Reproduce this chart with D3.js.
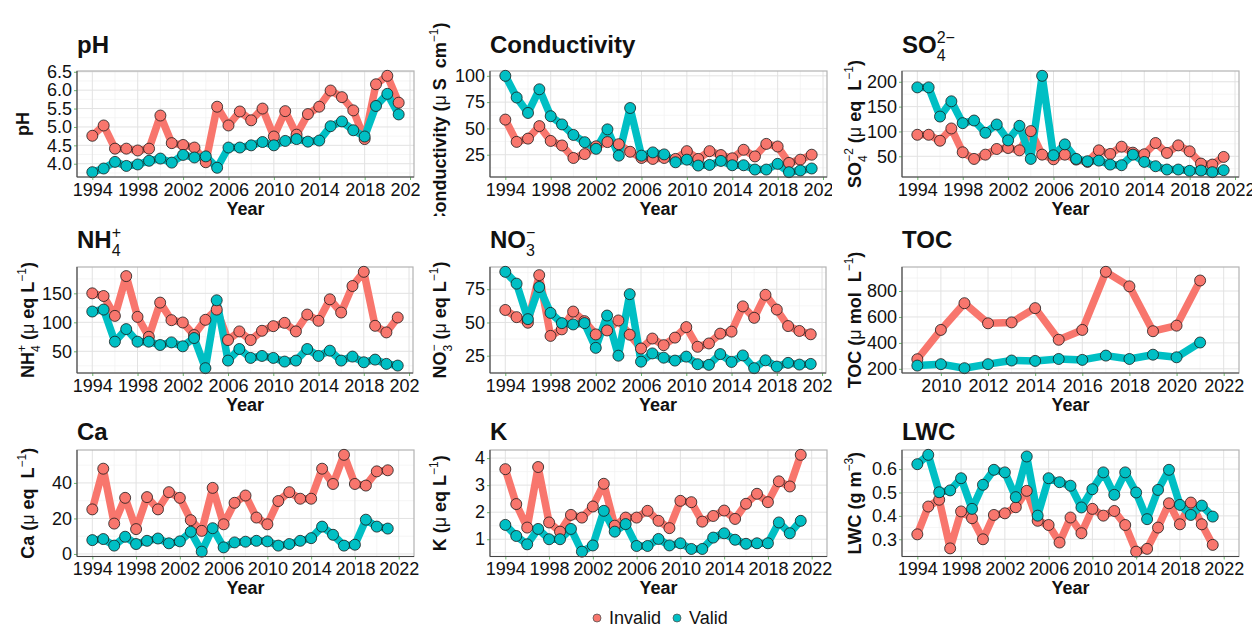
<!DOCTYPE html>
<html lang="en">
<head>
<meta charset="UTF-8">
<title>Invalid vs valid samples</title>
<script src="https://cdn.jsdelivr.net/npm/d3@7"></script>
<style>
body{margin:0; background:#fff;}
svg text{font-family:"Liberation Sans", Arial, sans-serif; fill:#111;}
</style>
</head>
<body>
<div id="chart"></div>
<script>
// data
var years = [1994,1995,1996,1997,1998,1999,2000,2001,2002,2003,2004,2005,2006,2007,
             2008,2009,2010,2011,2012,2013,2014,2015,2016,2017,2018,2019,2020,2021];
var tocYears = [2009,2010,2011,2012,2013,2014,2015,2016,2017,2018,2019,2020,2021];

var phInvalid = [4.76,5.04,4.41,4.41,4.36,4.41,5.31,4.56,4.51,4.44,4.04,5.55,5.04,5.42,5.18,5.50,4.74,5.43,4.79,5.35,5.55,5.99,5.81,5.45,4.67,6.16,6.39,5.66];
var phValid   = [3.77,3.87,4.05,3.94,3.98,4.08,4.14,4.03,4.24,4.17,4.20,3.89,4.44,4.44,4.50,4.59,4.50,4.62,4.67,4.60,4.63,5.02,5.15,4.91,4.74,5.57,5.90,5.34];

var condInvalid = [58.4,37.2,40.3,52.2,38.1,33.8,21.9,25.6,33,37,35,27.8,21.9,21,21.9,21,28.4,21,28.4,24.7,21.6,29.7,23.4,35.3,32.8,17.2,20.3,25];
var condValid   = [100,79.4,64.7,87.2,61.6,53.8,43.8,36.9,30.6,49.1,24.1,69.4,24.1,27.2,25.3,17.8,20.3,14.7,15.3,19.1,15,15,10.9,10.9,16.3,8.4,10,11.9];

var so4Invalid = [93.3,93.3,81.3,106,58,44.7,53.3,64.7,66.7,62,100.7,53.3,44,53.3,43.3,38.7,62,54.7,69.3,57.3,54,76.7,56.7,72,60,35.3,33.3,48.7];
var so4Valid   = [188.7,188.7,130,160.7,116.7,122,97.3,114,82,111.3,44.7,212,52,74,44.7,40,41.3,33.3,32,53.3,38.7,30,23.3,23.3,20.7,21.3,18,22];

var nh4Invalid = [150,145.4,111.1,179.7,109.4,75,134,103.7,99.7,78,104.3,122,69.4,84.3,69.4,85.4,93.4,99.1,84.3,113.4,102.6,139.7,116.9,162.6,187.1,94,82.6,108.3];
var nh4Valid   = [118.6,122,66.6,88.3,66.6,66.6,60.9,65.4,58.6,72.9,20.9,138,34,54,38.6,42,38.6,32.3,34,54,42,51.1,34,40.9,31.1,35.7,28.3,25.4];

var no3Invalid = [59.4,54,49.8,85.6,39.9,44.8,58.2,51,41,44,51.5,40.8,30.4,37.9,32.9,38.6,46.5,31.7,34.2,41.6,43.1,62.1,53.5,70.8,59.7,47.3,43.6,41.1];
var no3Valid   = [88.1,79.2,52.5,76.7,57.2,49.5,48.5,49.5,30.9,55.2,25,71.3,20.5,26.7,23.5,21.3,24.3,18.6,18.1,26.2,20.3,25.2,15.6,21.5,16.8,19.6,18.3,18.8];

var tocInvalid = [274,500,706,551,558,668,424,500,948,836,490,533,881];
var tocValid   = [225,236,205,236,264,261,276,269,302,276,309,289,403];

var caInvalid = [25.1,48,17.1,31.6,14,32,25.1,34.8,31.6,19,13,37.2,16.7,28.8,32.9,20.5,16.7,29.8,34.8,31.1,31.1,48,39.4,55.8,39.4,38.5,46.5,47.1];
var caValid   = [7.8,8.4,4.7,9.7,5.6,7.4,8.7,6,7.1,12.5,1.3,14.5,3.7,6.5,6.9,7.4,7.1,4.7,5.6,7.4,8.9,15.4,10.8,4.7,5.2,19.3,15.4,14.3];

var kInvalid = [3.59,2.30,1.43,3.67,1.62,1.28,1.90,1.80,2.21,3.05,1.5,1.80,1.80,2.05,1.68,1.41,2.42,2.37,1.65,1.86,2.06,1.75,2.31,2.68,2.37,3.14,2.95,4.12];
var kValid   = [1.53,1.12,0.81,1.38,1.00,1.00,1.38,0.54,0.77,2.05,1.28,1.56,0.75,0.75,1.01,0.77,0.85,0.64,0.64,1.06,1.22,0.98,0.83,0.85,0.85,1.62,1.22,1.68];

var lwcInvalid = [0.321,0.440,0.469,0.261,0.419,0.390,0.300,0.404,0.411,0.437,0.507,0.379,0.361,0.286,0.393,0.326,0.430,0.401,0.421,0.361,0.247,0.259,0.350,0.454,0.364,0.457,0.364,0.276];
var lwcValid   = [0.621,0.661,0.501,0.509,0.561,0.430,0.533,0.597,0.586,0.480,0.654,0.401,0.561,0.544,0.529,0.436,0.514,0.586,0.490,0.586,0.500,0.386,0.511,0.597,0.447,0.404,0.444,0.397];

// tick labels
var yearTicks = [1994,1998,2002,2006,2010,2014,2018,2022];
var tocYearTicks = [2010,2012,2014,2016,2018,2020,2022];
var phTicks = [4.0,4.5,5.0,5.5,6.0,6.5];
var condTicks = [25,50,75,100];
var so4Ticks = [50,100,150,200];
var nh4Ticks = [50,100,150];
var no3Ticks = [25,50,75];
var tocTicks = [200,400,600,800];
var caTicks = [0,20,40];
var kTicks = [1,2,3,4];
var lwcTicks = [0.3,0.4,0.5,0.6];

var groups = ["Invalid", "Valid"];
var colors = ["#F8766D", "#00BFC4"];

// layout
var W = 1252, H = 627;
var colEdges = [0, 420, 832, 1252];
var rowEdges = [0, 216, 414, 600];

var uL = [[" (","b"],["μ","n"],[" eq L","b"],["−1","sup"],[")","b"]];
var uL2 = [[" (","b"],["μ","n"],[" eq  L","b"],["−1","sup"],[")","b"]];

var panels = [
  {title:[["pH","b"]], ylab:[["pH","b"]], x:years, xMax:2021, xt:yearTicks, inv:phInvalid, val:phValid, yt:phTicks, fmt:d3.format(".1f"),
   box:[77,414,71,177], ylx:29, ty:53},
  {title:[["Conductivity","b"]], ylab:[["Conductivity (","b"],["μ","n"],[" S  cm","b"],["−1","sup"],[")","b"]], x:years, xMax:2021, xt:yearTicks, inv:condInvalid, val:condValid, yt:condTicks, fmt:d3.format("d"),
   box:[490,827,71,177], ylx:446, ty:53},
  {title:[["SO","b"],{sub:"4",sup:"2−"}], ylab:[["SO","b"],{sub:"4",sup:"−2"}].concat(uL2), x:years, xMax:2021, xt:yearTicks, inv:so4Invalid, val:so4Valid, yt:so4Ticks, fmt:d3.format("d"),
   box:[902,1239,71,177], ylx:861, ty:53},
  {title:[["NH","b"],{sub:"4",sup:"+"}], ylab:[["NH","b"],{sub:"4",sup:"+"}].concat(uL), x:years, xMax:2021, xt:yearTicks, inv:nh4Invalid, val:nh4Valid, yt:nh4Ticks, fmt:d3.format("d"),
   box:[77,413,267,373], ylx:34, ty:248},
  {title:[["NO","b"],{sub:"3",sup:"−"}], ylab:[["NO","b"],{sub:"3",sup:"−"}].concat(uL), x:years, xMax:2021, xt:yearTicks, inv:no3Invalid, val:no3Valid, yt:no3Ticks, fmt:d3.format("d"),
   box:[490,826,267,373], ylx:446, ty:248},
  {title:[["TOC","b"]], ylab:[["TOC (","b"],["μ","n"],[" mol  L","b"],["−1","sup"],[")","b"]], x:tocYears, xMax:2022, xt:tocYearTicks, inv:tocInvalid, val:tocValid, yt:tocTicks, fmt:d3.format("d"),
   box:[902,1239,267,373], ylx:861, ty:248},
  {title:[["Ca","b"]], ylab:[["Ca","b"]].concat(uL2), x:years, xMax:2022, xt:yearTicks, inv:caInvalid, val:caValid, yt:caTicks, fmt:d3.format("d"),
   box:[77,414,450,556.5], ylx:34, ty:440},
  {title:[["K","b"]], ylab:[["K","b"]].concat(uL), x:years, xMax:2022, xt:yearTicks, inv:kInvalid, val:kValid, yt:kTicks, fmt:d3.format("d"),
   box:[490,827,450,556.5], ylx:446, ty:440},
  {title:[["LWC","b"]], ylab:[["LWC (g m","b"],["−3","sup"],[")","b"]], x:years, xMax:2022, xt:yearTicks, inv:lwcInvalid, val:lwcValid, yt:lwcTicks, fmt:d3.format(".1f"),
   box:[902,1239,450,556.5], ylx:861, ty:440}
];

var svg = d3.select("#chart").append("svg").attr("width", W).attr("height", H);
svg.append("rect").attr("width", W).attr("height", H).attr("fill", "#fff");

function expand(d) {
  var e = (d[1] - d[0]) * 0.05;
  return [d[0] - e, d[1] + e];
}

function minors(ticks, dom) {
  var step = ticks[1] - ticks[0], out = [];
  for (var v = ticks[0] - step / 2; v <= ticks[ticks.length - 1] + step / 2 + 1e-9; v += step) {
    if (v >= dom[0] && v <= dom[1]) out.push(v);
  }
  return out;
}

// text with bold/normal parts, superscripts and stacked sub/sup
function rich(sel, segs, size) {
  var cur = 0, pend = 0;
  var small = Math.round(size * 0.68);
  function add(t, fs, fw, off, dx) {
    var s = sel.append("tspan").text(t).attr("font-size", fs).attr("font-weight", fw).attr("dy", off - cur);
    if (dx) s.attr("dx", dx);
    cur = off;
    return s;
  }
  segs.forEach(function(s) {
    if (Array.isArray(s)) {
      if (s[1] == "sup") add(s[0], small, "normal", -0.42 * size, pend);
      else add(s[0], size, s[1] == "b" ? "bold" : "normal", 0, pend);
      pend = 0;
    } else {
      var a = add(s.sub, small, "normal", 0.33 * size, pend);
      var w1 = a.node().getComputedTextLength();
      var b = add(s.sup, small, "normal", -0.42 * size, -w1);
      var w2 = b.node().getComputedTextLength();
      pend = Math.max(0, w1 - w2);
    }
  });
}

panels.forEach(function(p, i) {
  var col = i % 3, row = Math.floor(i / 3);
  var g = svg.append("g");
  // each panel covers its own cell, like stacked ggplots
  g.append("rect")
    .attr("x", colEdges[col]).attr("y", rowEdges[row])
    .attr("width", colEdges[col + 1] - colEdges[col])
    .attr("height", rowEdges[row + 1] - rowEdges[row])
    .attr("fill", "#fff");

  var L = p.box[0], R = p.box[1], T = p.box[2], B = p.box[3];
  var xd = expand([p.x[0], p.xMax]);
  var yd = expand(d3.extent(p.inv.concat(p.val)));
  var x = d3.scaleLinear().domain(xd).range([L, R]);
  var y = d3.scaleLinear().domain(yd).range([B, T]);

  var grid = g.append("g");
  grid.selectAll(".mx").data(minors(p.xt, xd)).enter().append("line")
    .attr("x1", function(d){ return x(d); }).attr("x2", function(d){ return x(d); })
    .attr("y1", T).attr("y2", B).attr("stroke", "#f0f0f0").attr("stroke-width", 0.7);
  grid.selectAll(".my").data(minors(p.yt, yd)).enter().append("line")
    .attr("y1", function(d){ return y(d); }).attr("y2", function(d){ return y(d); })
    .attr("x1", L).attr("x2", R).attr("stroke", "#f0f0f0").attr("stroke-width", 0.7);
  grid.selectAll(".gx").data(p.xt.filter(function(d){ return d >= xd[0] && d <= xd[1]; })).enter().append("line")
    .attr("x1", function(d){ return x(d); }).attr("x2", function(d){ return x(d); })
    .attr("y1", T).attr("y2", B).attr("stroke", "#e2e2e2").attr("stroke-width", 1);
  grid.selectAll(".gy").data(p.yt).enter().append("line")
    .attr("y1", function(d){ return y(d); }).attr("y2", function(d){ return y(d); })
    .attr("x1", L).attr("x2", R).attr("stroke", "#e2e2e2").attr("stroke-width", 1);

  g.append("rect").attr("x", L).attr("y", T).attr("width", R - L).attr("height", B - T)
    .attr("fill", "none").attr("stroke", "#b3b3b3").attr("stroke-width", 1.2);

  var series = [p.inv, p.val];
  var line = d3.line()
    .x(function(d, j){ return x(p.x[j]); })
    .y(function(d){ return y(d); });

  series.forEach(function(s, k) {
    g.append("path").datum(s).attr("d", line)
      .attr("fill", "none").attr("stroke", colors[k]).attr("stroke-width", 7.5)
      .attr("stroke-linejoin", "round");
  });
  series.forEach(function(s, k) {
    g.append("g").selectAll("circle").data(s).enter().append("circle")
      .attr("cx", function(d, j){ return x(p.x[j]); })
      .attr("cy", function(d){ return y(d); })
      .attr("r", 5.5)
      .attr("fill", colors[k]).attr("stroke", "#1a1a1a").attr("stroke-width", 0.8);
  });

  // axes
  var ax = g.append("g").attr("transform", "translate(0," + B + ")")
    .call(d3.axisBottom(x).tickValues(p.xt).tickSize(3).tickPadding(3).tickFormat(d3.format("d")));
  var ay = g.append("g").attr("transform", "translate(" + L + ",0)")
    .call(d3.axisLeft(y).tickValues(p.yt).tickSize(3).tickPadding(2).tickFormat(p.fmt));
  [ax, ay].forEach(function(a) {
    a.select(".domain").remove();
    a.selectAll(".tick line").attr("stroke", "#6cb86c");
    a.selectAll(".tick text").attr("font-size", 18).attr("fill", "#111")
      .style("font-family", "'Liberation Sans', Arial, sans-serif");
  });
  g.append("line").attr("x1", L).attr("x2", L).attr("y1", T).attr("y2", B).attr("stroke", "#444").attr("stroke-width", 1.1);
  g.append("line").attr("x1", L).attr("x2", R).attr("y1", B).attr("y2", B).attr("stroke", "#444").attr("stroke-width", 1.1);

  g.append("text").attr("x", (L + R) / 2).attr("y", B + 37.5)
    .attr("text-anchor", "middle").attr("font-size", 18).attr("font-weight", "bold").text("Year");

  var yl = g.append("text")
    .attr("transform", "translate(" + p.ylx + "," + ((T + B) / 2) + ") rotate(-90)")
    .attr("text-anchor", "middle").attr("xml:space", "preserve").style("white-space", "pre");
  rich(yl, p.ylab, 18);

  var tt = g.append("text").attr("x", L).attr("y", p.ty).attr("xml:space", "preserve");
  rich(tt, p.title, 24);
});

// legend
var lg = svg.append("g");
var legX = [597, 677];
groups.forEach(function(name, k) {
  lg.append("circle").attr("cx", legX[k]).attr("cy", 618).attr("r", 4)
    .attr("fill", colors[k]).attr("stroke", "#555").attr("stroke-width", 0.8);
  lg.append("text").attr("x", legX[k] + 12).attr("y", 624)
    .attr("font-size", 18).attr("fill", "#222").text(name);
});
</script>
</body>
</html>
